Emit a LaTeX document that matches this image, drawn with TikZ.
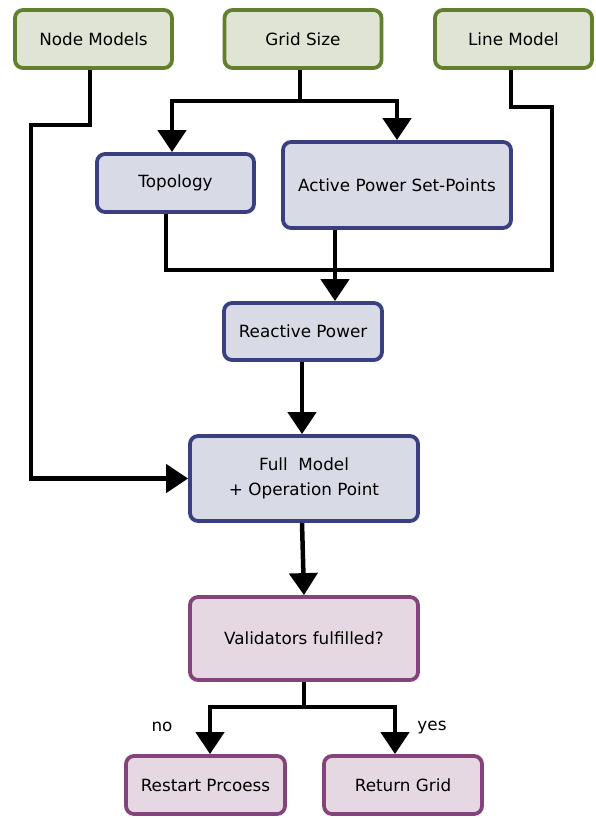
\documentclass[tikz,border=0pt]{standalone}
\usepackage{fontspec}
\setmainfont{DejaVu Sans}
\usetikzlibrary{arrows.meta}
\definecolor{inbord}{HTML}{617F2D}
\definecolor{infill}{HTML}{E0E4D4}
\definecolor{stbord}{HTML}{3A3F82}
\definecolor{stfill}{HTML}{D8DAE6}
\definecolor{chbord}{HTML}{84437A}
\definecolor{chfill}{HTML}{E6D8E2}

\begin{document}
\begin{tikzpicture}[x=1pt,y=-1pt,
	font=\fontsize{16.8}{25}\selectfont,
	box/.style={draw,line width=3.8pt,rounded corners=8pt,align=center,inner sep=0pt},
	inbox/.style={box,draw=inbord,fill=infill,minimum width=157pt,minimum height=58pt},
	stbox/.style={box,draw=stbord,fill=stfill},
	chbox/.style={box,draw=chbord,fill=chfill},
	line/.style={line width=4.5pt},
	conn/.style={line,-{Triangle[width=28pt,length=22pt]}}]
	\useasboundingbox (0,0) rectangle (595,818);
	% Eingaben
	\node[inbox] (nm) at (93.5,39) {Node Models};
	\node[inbox] (gs) at (303,39) {Grid Size};
	\node[inbox] (lm) at (513.5,39) {Line Model};
	% Zwischenschritte
	\node[stbox,minimum width=157pt,minimum height=58pt] (topo) at (175.5,183) {Topology};
	\node[stbox,minimum width=228pt,minimum height=86pt] (aps) at (397,185) {Active Power Set-Points};
	\node[stbox,minimum width=158pt,minimum height=57pt] (rp) at (303,331.5) {Reactive Power};
	\node[stbox,minimum width=228pt,minimum height=85pt] (full) at (304,478.5) {Full\ \ Model\\+ Operation Point};
	% Pruefung
	\node[chbox,minimum width=228pt,minimum height=83pt] (val) at (304,638.5) {Validators fulfilled?};
	\node[chbox,minimum width=159pt,minimum height=58pt] (rs) at (205.5,785) {Restart Prcoess};
	\node[chbox,minimum width=158pt,minimum height=58pt] (rg) at (403,785) {Return Grid};
	% Hilfspunkte
	\coordinate (gsfork) at (300,101);
	\coordinate (merge) at (335,270);
	\coordinate (valfork) at (304,707);
	% Verbindungen
	\draw[conn] ([xshift=-3.5pt]nm.south) |- (31,125) |- (full.west);
	\draw[line] ([xshift=-3pt]gs.south) -- (gsfork);
	\draw[conn] (gsfork) -| ([xshift=-3.5pt]topo.north);
	\draw[conn] (gsfork) -| (aps.north);
	\draw[line] ([xshift=-9.5pt]topo.south) |- (552,270) |- (511,107) -- ([xshift=-2.5pt]lm.south);
	\draw[conn] (aps.south -| merge) -- (rp.north -| merge);
	\draw[conn] ([xshift=-1pt]rp.south) -- ([xshift=-2pt]full.north);
	\draw[conn] ([xshift=-2pt]full.south) -- (val.north);
	\draw[line] (val.south) -- (valfork);
	\draw[conn] (valfork) -| ([xshift=4.5pt]rs.north);
	\draw[conn] (valfork) -| ([xshift=-8pt]rg.north);
	% Beschriftung
	\node (no) at (162,727) {no};
	\node (yes) at (432,728) {yes};
\end{tikzpicture}
\end{document}
